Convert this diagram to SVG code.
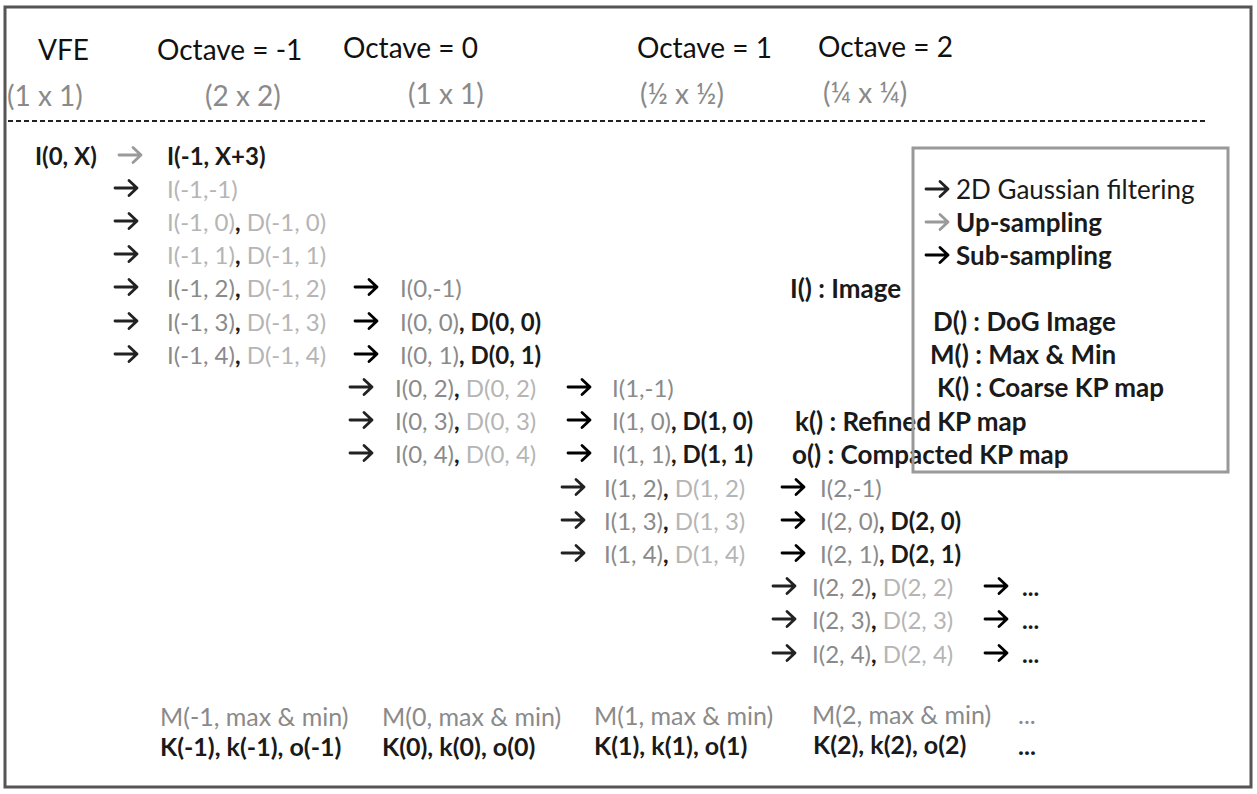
<svg xmlns="http://www.w3.org/2000/svg" width="1257" height="794" viewBox="0 0 1257 794">
<style>
text{font-family:Lato,"Open Sans","Liberation Sans",sans-serif;font-size:24px;fill:#1a1a1a}
.b{font-weight:bold;fill:#1a1a1a}
.l{fill:#b5b5b5;font-weight:normal}
.m{fill:#8a8a8a;font-weight:normal}
.h{font-size:28px;fill:#111}
.hs{font-size:28px;fill:#8a8a8a}
.lg{font-size:26px}
.bt{font-size:25px}
.ar{fill:none;stroke:#222;stroke-width:2.8;stroke-linecap:round;stroke-linejoin:round}
.ag{stroke:#9a9a9a}
.ak{stroke:#000}
</style>
<defs>
<path id="arr" d="M0,0 H22 M14,-7.5 L22,0 L14,7.5"/>
</defs>
<rect x="5" y="7" width="1246" height="780" fill="#fff" stroke="#555" stroke-width="3"/>
<g id="header">
<text class="h" x="38" y="60">VFE</text>
<text class="h" x="157" y="60">Octave = -1</text>
<text class="h" x="343" y="58">Octave = 0</text>
<text class="h" x="637" y="58">Octave = 1</text>
<text class="h" x="818" y="57">Octave = 2</text>
<text class="hs" x="7" y="106">(1 x 1)</text>
<text class="hs" x="205" y="106">(2 x 2)</text>
<text class="hs" x="408" y="104">(1 x 1)</text>
<text class="hs" x="640" y="104">(½ x ½)</text>
<text class="hs" x="823" y="103">(¼ x ¼)</text>
<line x1="8" y1="121" x2="1206" y2="121" stroke="#222" stroke-width="2" stroke-dasharray="5,3"/>
</g>
<g id="connectors">
<use href="#arr" class="ar ag" x="119" y="155"/>
<use href="#arr" class="ar" x="115" y="188"/>
<use href="#arr" class="ar" x="115" y="221"/>
<use href="#arr" class="ar" x="115" y="254"/>
<use href="#arr" class="ar" x="115" y="287"/>
<use href="#arr" class="ar" x="115" y="321"/>
<use href="#arr" class="ar" x="115" y="354"/>
<use href="#arr" class="ar ak" x="355" y="287"/>
<use href="#arr" class="ar ak" x="355" y="321"/>
<use href="#arr" class="ar ak" x="355" y="354"/>
<use href="#arr" class="ar" x="350" y="387"/>
<use href="#arr" class="ar" x="350" y="420"/>
<use href="#arr" class="ar" x="350" y="453"/>
<use href="#arr" class="ar ak" x="568" y="387"/>
<use href="#arr" class="ar ak" x="568" y="420"/>
<use href="#arr" class="ar ak" x="568" y="453"/>
<use href="#arr" class="ar" x="562" y="487"/>
<use href="#arr" class="ar" x="562" y="520"/>
<use href="#arr" class="ar" x="562" y="553"/>
<use href="#arr" class="ar ak" x="782" y="487"/>
<use href="#arr" class="ar ak" x="782" y="520"/>
<use href="#arr" class="ar ak" x="782" y="553"/>
<use href="#arr" class="ar" x="773" y="586"/>
<use href="#arr" class="ar" x="773" y="619"/>
<use href="#arr" class="ar" x="773" y="653"/>
<use href="#arr" class="ar ak" x="985" y="586"/>
<use href="#arr" class="ar ak" x="985" y="619"/>
<use href="#arr" class="ar ak" x="985" y="653"/>
</g>
<g id="vfe"><text class="b" x="35" y="165">I(0, X)</text></g>
<g id="oct-1">
<text class="b" x="167" y="165">I(-1, X+3)</text>
<text class="l" x="167" y="198">I(-1,-1)</text>
<text x="167" y="231"><tspan class="l">I(-1, 0)</tspan><tspan class="b">,</tspan><tspan class="l"> D(-1, 0)</tspan></text>
<text x="167" y="264"><tspan class="l">I(-1, 1)</tspan><tspan class="b">,</tspan><tspan class="l"> D(-1, 1)</tspan></text>
<text x="167" y="297"><tspan class="m">I(-1, 2)</tspan><tspan class="b">,</tspan><tspan class="l"> D(-1, 2)</tspan></text>
<text x="167" y="331"><tspan class="m">I(-1, 3)</tspan><tspan class="b">,</tspan><tspan class="l"> D(-1, 3)</tspan></text>
<text x="167" y="364"><tspan class="m">I(-1, 4)</tspan><tspan class="b">,</tspan><tspan class="l"> D(-1, 4)</tspan></text>
</g>
<g id="oct0">
<text class="m" x="400" y="297">I(0,-1)</text>
<text x="400" y="331"><tspan class="m">I(0, 0)</tspan><tspan class="b">, D(0, 0)</tspan></text>
<text x="400" y="364"><tspan class="m">I(0, 1)</tspan><tspan class="b">, D(0, 1)</tspan></text>
<text x="395" y="397"><tspan class="m">I(0, 2)</tspan><tspan class="b">,</tspan><tspan class="l"> D(0, 2)</tspan></text>
<text x="395" y="430"><tspan class="m">I(0, 3)</tspan><tspan class="b">,</tspan><tspan class="l"> D(0, 3)</tspan></text>
<text x="395" y="463"><tspan class="m">I(0, 4)</tspan><tspan class="b">,</tspan><tspan class="l"> D(0, 4)</tspan></text>
</g>
<g id="oct1">
<text class="m" x="612" y="397">I(1,-1)</text>
<text x="612" y="430"><tspan class="m">I(1, 0)</tspan><tspan class="b">, D(1, 0)</tspan></text>
<text x="612" y="463"><tspan class="m">I(1, 1)</tspan><tspan class="b">, D(1, 1)</tspan></text>
<text x="604" y="497"><tspan class="m">I(1, 2)</tspan><tspan class="b">,</tspan><tspan class="l"> D(1, 2)</tspan></text>
<text x="604" y="530"><tspan class="m">I(1, 3)</tspan><tspan class="b">,</tspan><tspan class="l"> D(1, 3)</tspan></text>
<text x="604" y="563"><tspan class="m">I(1, 4)</tspan><tspan class="b">,</tspan><tspan class="l"> D(1, 4)</tspan></text>
</g>
<g id="oct2">
<text class="m" x="820" y="497">I(2,-1)</text>
<text x="820" y="530"><tspan class="m">I(2, 0)</tspan><tspan class="b">, D(2, 0)</tspan></text>
<text x="820" y="563"><tspan class="m">I(2, 1)</tspan><tspan class="b">, D(2, 1)</tspan></text>
<text x="812" y="596"><tspan class="m">I(2, 2)</tspan><tspan class="b">,</tspan><tspan class="l"> D(2, 2)</tspan></text>
<text x="812" y="629"><tspan class="m">I(2, 3)</tspan><tspan class="b">,</tspan><tspan class="l"> D(2, 3)</tspan></text>
<text x="812" y="663"><tspan class="m">I(2, 4)</tspan><tspan class="b">,</tspan><tspan class="l"> D(2, 4)</tspan></text>
<text class="b" x="1022" y="596">...</text>
<text class="b" x="1022" y="629">...</text>
<text class="b" x="1022" y="663">...</text>
</g>
<g id="bottom">
<text class="m bt" x="160" y="726">M(-1, max &amp; min)</text>
<text class="m bt" x="382" y="726">M(0, max &amp; min)</text>
<text class="m bt" x="594" y="725">M(1, max &amp; min)</text>
<text class="m bt" x="812" y="724">M(2, max &amp; min)</text>
<text class="m bt" x="1018" y="724">...</text>
<text class="b bt" x="160" y="756">K(-1), k(-1), o(-1)</text>
<text class="b bt" x="382" y="756">K(0), k(0), o(0)</text>
<text class="b bt" x="594" y="755">K(1), k(1), o(1)</text>
<text class="b bt" x="813" y="754">K(2), k(2), o(2)</text>
<text class="b bt" x="1018" y="755">...</text>
</g>
<g id="legend">
<text class="b lg" x="790" y="298">I() : Image</text>
<text class="b lg" x="795" y="431">k() : Refined KP map</text>
<text class="b lg" x="792" y="464">o() : Compacted KP map</text>
<rect x="913" y="148" width="315" height="324" fill="none" stroke="#999" stroke-width="3"/>
<use href="#arr" class="ar" x="926" y="189"/>
<use href="#arr" class="ar ag" x="926" y="222"/>
<use href="#arr" class="ar ak" x="926" y="255"/>
<text class="lg" x="956" y="199" fill="#555">2D Gaussian filtering</text>
<text class="b lg" x="956" y="232">Up-sampling</text>
<text class="b lg" x="956" y="265">Sub-sampling</text>
<text class="b lg" x="933" y="331">D() : DoG Image</text>
<text class="b lg" x="930" y="364">M() : Max &amp; Min</text>
<text class="b lg" x="937" y="397">K() : Coarse KP map</text>
</g>
</svg>
